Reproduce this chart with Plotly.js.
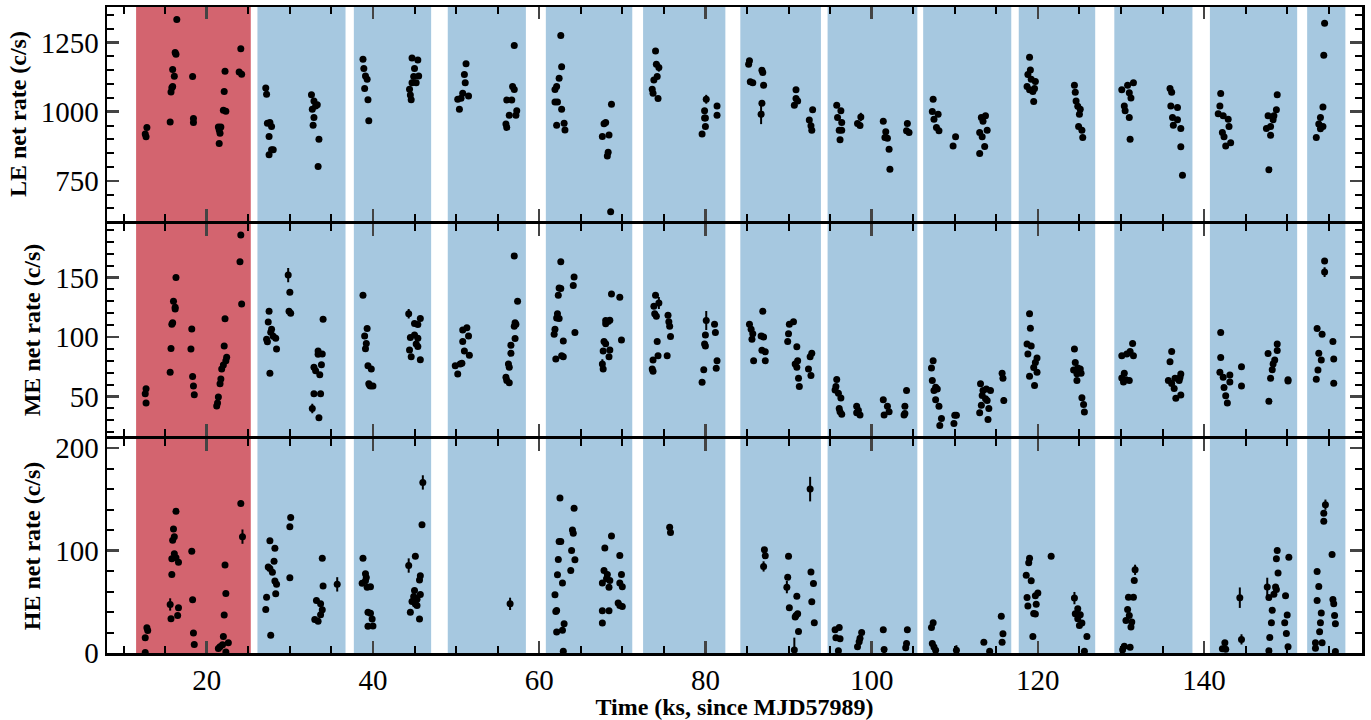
<!DOCTYPE html>
<html>
<head>
<meta charset="utf-8">
<script src="https://cdn.plot.ly/plotly-3.0.1.min.js"></script>
<style>html,body{margin:0;padding:0;background:#fff;}#chart{width:1371px;height:720px;}</style>
</head>
<body>
<div id="chart"></div>
<script>
// Observation windows (ks since MJD57989); first one is the red window
const shadeStart = [11.5, 26.1, 37.7, 49.0, 60.8, 72.5, 84.2, 94.7, 106.2, 117.7, 129.2, 140.7, 152.4];
const shadeEnd   = [25.3, 36.7, 47.0, 58.4, 71.2, 82.4, 93.9, 105.5, 116.8, 126.9, 138.6, 151.2, 157.0];

// LE net rate (c/s)
const leTime = [12.6,12.7,12.8,15.6,15.7,15.8,15.9,16.1,15.9,16.2,16.3,16.4,18.3,18.4,18.4,21.4,21.5,21.6,21.5,21.7,22.0,22.1,22.2,22.3,24.1,23.9,24.2,
27.1,27.2,27.3,27.6,27.8,27.5,27.5,27.8,28.0,32.6,32.7,32.9,32.9,33.1,33.3,32.8,33.5,33.4,
38.8,38.9,39.1,39.3,39.0,39.4,39.5,44.4,44.5,44.6,44.7,45.0,44.9,45.2,45.4,45.5,44.7,
50.2,50.4,50.6,50.8,51.2,51.0,51.1,51.5,57.0,56.8,57.0,56.1,56.7,56.4,56.0,56.1,57.3,57.2,
62.6,62.7,62.4,62.1,61.9,61.9,62.2,62.7,62.1,63.0,63.1,68.7,68.0,67.8,67.6,68.4,68.3,68.2,68.6,
74.0,74.1,74.2,73.8,73.6,73.7,74.3,79.9,79.9,80.0,80.0,79.6,81.4,81.4,
85.3,85.2,85.4,85.7,86.8,86.9,87.0,86.8,90.9,90.9,91.1,90.7,92.9,92.5,92.7,92.8,
95.8,96.3,95.9,96.4,96.1,96.4,96.2,98.3,98.6,101.4,101.7,101.6,101.9,102.1,102.2,104.3,104.2,104.5,
107.4,107.3,108.0,107.5,107.8,108.1,110.1,109.8,113.2,113.7,113.4,113.0,113.3,113.9,113.6,113.0,
119.0,119.1,118.8,119.2,119.7,118.7,119.0,119.4,119.6,119.5,124.4,124.5,124.6,124.8,125.1,125.0,124.9,125.3,125.4,
130.1,130.8,131.5,131.0,131.2,130.4,130.5,131.0,131.1,135.9,136.1,136.0,136.8,136.2,136.8,136.3,137.2,137.2,137.4,
142.0,141.9,141.7,142.3,142.9,143.0,142.2,142.4,142.6,143.2,148.8,148.7,148.4,147.7,148.3,148.0,147.5,148.0,147.8,
154.5,154.4,154.3,154.0,153.8,154.3,153.5,154.0];
const leRate = [919,909,943,963,1071,1087,1153,1128,1091,1214,1208,1334,1127,975,961,945,934,922,885,945,1005,1073,1146,1002,1228,1144,1136,
1086,1063,958,961,946,910,844,862,862,1061,1009,979,1039,1021,1025,951,900,802,
1190,1156,1129,1117,1084,1043,967,1081,1060,1043,1194,1156,1127,1105,1187,1129,1105,
1045,1009,1049,1067,1174,1135,1105,1057,1240,1091,1080,1042,1042,987,955,943,1003,987,
1276,1163,1121,1091,1080,1035,1035,1009,951,958,934,1027,961,956,910,916,853,840,638,
1220,1172,1127,1115,1081,1067,1048,1003,977,977,946,919,1021,987,
1184,1172,1108,1105,1150,1142,1096,1031,1079,1048,1039,1023,1007,970,949,933,
1023,1003,979,961,933,933,898,957,950,965,927,907,904,864,792,957,931,925,
1045,1001,991,973,943,931,909,876,979,985,965,925,909,933,874,849,
1197,1151,1135,1117,1109,1091,1079,1073,1084,1037,1096,1070,1039,1020,1009,991,946,933,907,
1079,1096,1105,1069,1050,1021,1003,979,900,1084,1070,1021,1015,979,971,951,939,873,770,
1066,1021,993,985,973,946,925,909,876,888,1061,1007,985,985,971,946,939,915,790,
1320,1204,1017,979,955,946,907,938];
const leErrTime = [74.4, 80.1, 86.7, 98.7];
const leErrRate = [1160, 1045, 991, 981];
const leErr     = [15, 16, 36, 15];

// ME net rate (c/s)
const meTime = [12.7,12.6,12.7,15.6,15.7,15.8,15.9,16.0,16.2,16.2,16.3,18.2,18.1,18.3,18.4,18.5,21.2,21.3,21.4,21.6,21.7,21.8,22.0,22.3,22.4,22.1,22.2,24.1,24.0,24.2,
27.5,27.4,27.8,27.7,27.2,27.3,28.0,28.3,28.4,27.6,30.0,29.9,30.1,34.0,33.4,33.4,33.9,32.9,33.1,33.8,33.6,32.9,33.7,33.5,
38.8,39.3,39.0,39.2,39.1,39.4,39.8,39.5,39.7,40.0,39.6,45.0,45.4,45.7,44.5,45.0,45.4,44.4,45.2,45.4,44.6,45.7,
49.9,50.2,50.5,50.7,50.8,51.3,50.8,51.5,51.0,51.6,57.0,57.4,57.1,57.2,57.0,57.1,56.6,56.6,56.3,56.4,56.0,56.1,56.4,
62.6,64.2,64.1,62.4,62.6,62.3,62.2,62.4,62.1,61.9,61.8,62.9,64.3,62.0,62.7,62.9,68.7,69.7,68.0,68.3,68.5,68.0,69.9,67.8,68.0,68.5,67.7,68.4,67.7,
74.0,73.8,73.9,74.1,75.5,75.6,75.7,75.8,74.2,74.3,75.4,73.7,73.6,73.7,81.1,81.2,80.0,79.9,80.0,81.4,81.3,79.8,79.6,
85.3,85.5,85.7,85.6,86.9,86.7,87.0,86.8,87.2,85.8,87.2,90.6,90.1,90.0,89.9,91.0,91.1,90.8,91.0,91.2,91.3,92.8,92.6,92.4,92.7,
95.8,95.7,95.6,96.0,96.3,96.1,96.2,96.4,98.2,98.4,98.2,98.6,101.4,101.9,102.1,101.5,104.2,104.0,104.0,103.9,
107.4,107.2,107.3,107.7,107.9,107.5,107.7,108.1,108.4,108.2,110.0,110.2,109.9,113.1,113.4,113.8,114.3,113.3,113.7,113.9,113.0,113.2,114.1,114.0,115.7,115.8,
119.0,119.1,118.7,119.2,118.8,119.9,119.7,119.5,119.9,119.0,119.6,124.4,124.5,124.3,124.8,125.1,124.7,125.2,124.7,125.3,125.5,125.6,
131.4,131.1,130.7,130.1,131.5,130.4,130.1,130.6,131.0,130.3,136.1,135.9,137.2,135.7,136.5,136.1,137.0,136.4,137.2,136.6,137.1,
142.0,142.0,141.9,142.3,143.1,143.1,142.4,142.6,142.8,144.5,144.5,148.8,148.8,147.7,148.5,148.3,148.2,148.0,147.8,150.1,150.1,
154.5,153.6,154.2,155.5,153.8,154.1,155.6,153.7,153.5,155.6];
const meRate = [56.4,52.2,44.5,70.3,90.3,110.6,112,130,123.6,125,150,106.7,89.8,66.7,58.7,51.4,42,44.5,49.5,60.6,64.7,73,76.4,80,83,92.5,115.3,185.6,163.3,127.8,
121.7,112.5,106.4,104,98,96,100.6,99,89.8,69.5,137.5,121.7,120,114.8,88.3,85.5,85.6,74.5,71.6,76.7,68.3,52.2,52.2,32,
135,107.2,100.8,94.5,90,75.8,73,60.6,58.7,58.7,59.5,111.4,110.5,115.6,99.5,101.7,99,89,94,92,83.3,80.9,
75.8,68.9,77.3,78,96.2,107.8,105.8,100.8,88.3,84.7,168,130,112,110.6,109,98.7,93,86.2,77.3,74.6,66.2,63.5,61.6,
163.3,150.3,143.3,141.2,140.8,135,119.5,115.6,116,106.4,102.2,96.7,103.7,81.4,84.2,83.3,136.2,133.3,113.9,113,114,111,97.5,96.2,94.3,89,88.3,83.3,73,
135,125.8,119.5,117.5,118.3,112.8,109,100.3,96.2,84.2,84.2,80.6,73,71.2,110.6,103.7,101.7,94,92.5,80,73.7,72.5,62,
110.6,106.4,102.8,98,121.7,100.8,100,88.9,87.5,80,80,112.8,110.6,102.8,96.2,91.7,80,77.3,74.6,65.3,58.3,86.2,83.3,73,67.5,
64.2,58.3,55.5,52.7,48.7,39.8,37.1,35.1,41.7,38.4,36.2,34.3,47.2,41.7,37.1,34.3,55,41.7,35.6,34.3,
80,73.9,63.3,57.7,56.3,54.9,47.3,41.7,31.4,25.6,34.2,34.2,27.2,60.6,55,56.3,55,50.8,48,46.6,36.2,42.6,39.8,30.6,69.5,65.3,
119.5,107.3,94,92.5,85.6,82.3,78.6,74.4,70.3,66.9,59.2,89.8,78.6,72.2,73.9,73.1,69,69.5,63.5,48.9,43.3,36.9,
94.5,87.8,85.6,84.2,84.2,69.5,65.6,64,63.5,62.2,87.8,79.2,68.9,63.5,65.3,60.8,63.5,56.6,51.2,48.5,66,
103.7,82.8,70.3,66.2,68.1,62.2,57.6,50.5,44.5,75,58.7,94,88.6,86,80.6,77.3,72.5,65.3,45.9,64,63,
163.9,107.2,102.2,96.2,86.2,80.6,81.4,72.2,64.4,61];
const meErrTime = [29.8, 32.7, 44.3, 67.6, 74.4, 80.1, 115.9, 154.5];
const meErrRate = [152, 39.8, 119.5, 77.3, 128.6, 113.9, 46.6, 154.5];
const meErr     = [6, 4, 4, 4, 5, 8, 3, 4];

// HE net rate (c/s)
const heTime = [12.6,12.8,12.9,12.6,15.7,15.8,15.8,15.9,16.1,16.0,16.3,16.1,16.3,16.6,16.5,16.6,18.2,18.3,18.4,18.5,21.4,21.6,21.9,22.0,22.2,22.3,22.1,22.3,22.6,24.1,
27.6,28.2,27.4,27.6,27.9,28.1,28.2,28.4,28.3,27.2,27.1,27.7,30.0,30.1,30.0,33.2,33.7,33.9,33.7,33.0,33.4,33.9,34.0,
38.8,39.1,39.2,38.7,39.1,39.3,39.7,39.4,39.7,39.9,39.4,40.0,45.1,45.9,45.7,45.6,45.0,44.9,44.7,45.1,45.3,44.5,45.6,45.3,45.7,
62.5,64.2,64.0,64.1,62.4,62.6,63.9,64.3,62.3,62.2,63.8,62.8,61.9,62.1,62.0,63.0,62.8,62.1,62.9,
68.7,67.9,69.7,67.8,68.2,68.1,68.5,67.6,68.4,69.9,69.7,70.0,69.5,70.0,69.7,67.6,68.4,67.6,
75.7,75.8,87.1,87.2,90.0,89.9,91.0,90.9,91.1,90.8,90.1,91.2,92.7,93.0,92.8,93.1,
95.6,96.1,95.7,96.2,96.0,98.8,98.6,98.5,98.3,101.4,101.5,104.3,104.2,104.1,
107.4,107.2,107.3,107.5,107.7,113.5,114.2,115.6,115.8,115.7,
119.0,118.9,121.6,118.6,119.2,118.7,120.0,119.7,118.8,119.8,119.5,119.7,119.4,124.8,124.5,125.1,124.8,125.3,125.0,125.9,125.6,
131.6,130.9,131.5,130.8,131.0,130.6,131.3,131.2,130.4,131.1,130.2,
142.5,142.2,142.6,148.8,148.7,150.2,148.9,148.6,148.7,148.4,147.8,149.8,148.2,150.0,148.1,149.7,149.9,147.9,147.8,150.1,
154.4,154.4,155.4,153.6,153.8,153.6,155.5,155.6,154.1,155.7,154.0,155.8,153.9,153.4,154.2,153.4,155.8];
const heRate = [15,24.7,22,0.5,33.5,76.6,92,110,113.5,121,138.3,97,93,88.6,36.7,44.3,99.3,52,19.5,8.2,4.3,6,8,16,86,58,37,1,10,146,
109.7,102.2,84,82.6,78.9,89.6,70.3,67,57.8,54.5,42.5,17.3,73.4,132.4,123.3,51.3,48,42.2,37.4,32.8,30.9,92.5,65.3,
92.5,77.3,73.6,68,70.6,64.3,64.7,39.8,38.8,33.3,26,26.3,94.5,125.3,75.5,71.3,60.9,55.1,50.2,47.9,46.3,39.8,33.3,52.4,57.2,
151.3,141.2,120,117,108.8,108.8,100,91,91.3,76.3,80.5,68.4,56.9,41.6,40.6,28.6,22.1,20.5,1.7,
114.3,102.6,95.1,80.5,76.6,72.4,70.7,68.4,64.2,76.6,68.4,64.8,48.9,45.3,46.3,41.3,41.3,29.2,
122.7,117.7,100.7,94.9,94.5,74,55.5,36.7,38.3,35.1,44.1,21,79.2,67.8,50,29.5,
22.8,24.8,15,14,2.2,20.1,14.3,11,6.2,22.8,3.3,22.8,9.2,5.2,
29.6,24.8,9.2,5.9,2.6,10.4,1.7,36,18.8,10.4,
92.5,88,94.5,76,70.5,54.3,58.5,55.8,46,47.7,38.6,38,16,43.2,38.3,37.4,33.5,29.2,26.9,16.2,1.7,
70.8,54.5,54.5,42.5,36.7,31.8,30.2,25.3,6.7,5.7,3.1,
10.1,4.2,3.6,100,92,93.5,78.1,64.5,62,57.4,54.2,55.8,41.8,37,29.5,29.5,19.1,15.2,2.2,6,
136.4,128.6,96.1,79.5,65,51.3,52.2,48,39,36.7,29.5,28.6,20.8,10.1,10.1,4.6,1.4];
const heErrTime = [15.6, 24.3, 35.7, 44.3, 46.0, 56.5, 87.0, 89.8, 90.7, 92.6, 110.2, 124.4, 131.7, 144.3, 144.5, 147.6, 154.6];
const heErrRate = [47.4, 113.6, 67, 85.4, 166.5, 48, 84.5, 64.3, 3, 160, 2.6, 53.6, 81.2, 54, 13.3, 64.5, 144.8];
const heErr     = [6, 7, 7, 7, 7, 6, 5, 6, 12, 12, 5, 6, 5, 10, 5, 9, 5];

const SERIF = 'Liberation Serif, Times New Roman, serif';
const mk = {color: 'black', size: 7};
function pts(x, y, xa, ya) {
  return {x: x, y: y, xaxis: xa, yaxis: ya, type: 'scatter', mode: 'markers', marker: mk, hoverinfo: 'x+y', showlegend: false};
}
function errPts(x, y, e, xa, ya) {
  const t = pts(x, y, xa, ya);
  t.error_y = {type: 'data', array: e, visible: true, color: 'black', thickness: 2, width: 0};
  return t;
}

const traces = [
  pts(leTime, leRate, 'x3', 'y3'), errPts(leErrTime, leErrRate, leErr, 'x3', 'y3'),
  pts(meTime, meRate, 'x2', 'y2'), errPts(meErrTime, meErrRate, meErr, 'x2', 'y2'),
  pts(heTime, heRate, 'x', 'y'), errPts(heErrTime, heErrRate, heErr, 'x', 'y')
];

const shapes = shadeStart.map((s, i) => ({
  type: 'rect', xref: 'x', yref: 'paper', x0: s, x1: shadeEnd[i], y0: 0, y1: 1,
  fillcolor: i === 0 ? '#d3646f' : '#a6c8e0', line: {width: 0}, layer: 'below'
}));

const LW = 2.5;
function xAx(anchor, labels) {
  const a = {
    anchor: anchor, range: [8, 159], tick0: 0, dtick: 20, ticks: 'inside', ticklen: 12, tickwidth: 2.5,
    showline: true, linewidth: LW, linecolor: 'black', mirror: 'ticks', showgrid: false, zeroline: false,
    showticklabels: labels, tickfont: {family: SERIF, size: 29, color: 'black'},
    minor: {dtick: 5, tick0: 0, ticks: 'inside', ticklen: 7, tickwidth: 2, tickcolor: 'black'}
  };
  if (anchor !== 'y') a.matches = 'x';
  return a;
}
function yAx(anchor, dom, range, dtick, mdt, title) {
  return {
    anchor: anchor, domain: dom, range: range, tick0: 0, dtick: dtick, ticks: 'inside', ticklen: 12, tickwidth: 2.5,
    showline: true, linewidth: LW, linecolor: 'black', mirror: 'ticks', showgrid: false, zeroline: false,
    tickfont: {family: SERIF, size: 29, color: 'black'},
    minor: {dtick: mdt, tick0: 0, ticks: 'inside', ticklen: 7, tickwidth: 2, tickcolor: 'black'},
    title: {text: title, font: {family: SERIF, size: 24, color: 'black'}, standoff: 8}
  };
}

// gap between panel domains so adjacent axis lines coincide
const plotH = 720 - 7 - 67;
const g = (LW / plotH) / 2;

const xa1 = xAx('y', true);
xa1.title = {text: '<b>Time (ks, since MJD57989)</b>', font: {family: SERIF, size: 24, color: 'black'}, standoff: 4};

const layout = {
  width: 1371, height: 720,
  margin: {l: 107, r: 9, t: 7, b: 67},
  paper_bgcolor: 'white', plot_bgcolor: 'white',
  showlegend: false,
  xaxis: xa1,
  xaxis2: xAx('y2', false),
  xaxis3: xAx('y3', false),
  yaxis: yAx('x', [0, 1/3 - g], [0, 209], 100, 20, '<b>HE net rate (c/s)</b>'),
  yaxis2: yAx('x2', [1/3 + g, 2/3 - g], [16.4, 195.3], 50, 10, '<b>ME net rate (c/s)</b>'),
  yaxis3: yAx('x3', [2/3 + g, 1], [604, 1379], 250, 50, '<b>LE net rate (c/s)</b>'),
  shapes: shapes
};

Plotly.newPlot('chart', traces, layout, {displayModeBar: false, staticPlot: true});
</script>
</body>
</html>
